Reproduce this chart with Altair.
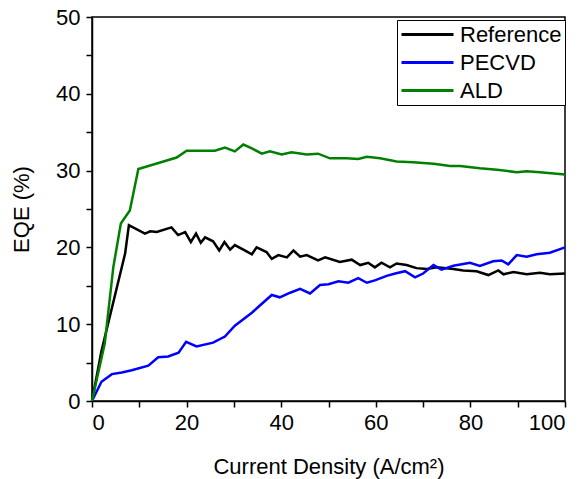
import altair as alt
import pandas as pd

series_names = ["Reference", "PECVD", "ALD"]
series_colors = ["#000000", "#0000ff", "#008000"]

ref_x = [0, 2.0, 7.0, 7.8, 11.2, 12.3, 13.7, 16.8, 18.2, 19.7, 20.9, 22.0, 23.0, 23.9, 25.6, 26.9, 28.0,
         29.2, 30.2, 32.0, 33.8, 34.8, 36.9, 38.0, 39.4, 41.2, 42.6, 44.0, 45.4, 47.8, 49.3, 52.4, 54.9,
         56.7, 58.4, 59.8, 61.2, 63.0, 64.4, 66.5, 68.6, 70.8, 72.9, 76.4, 78.5, 81.3, 83.8, 85.9, 87.0,
         89.1, 91.9, 94.7, 96.8, 100]
ref_y = [0, 6.5, 19.2, 22.9, 21.8, 22.1, 22.0, 22.6, 21.6, 22.0, 20.7, 21.8, 20.6, 21.3, 20.8, 19.6, 20.7,
         19.7, 20.3, 19.7, 19.1, 20.0, 19.4, 18.5, 19.0, 18.7, 19.6, 18.8, 19.0, 18.3, 18.7, 18.1, 18.4,
         17.7, 18.0, 17.4, 18.0, 17.4, 17.9, 17.7, 17.3, 17.2, 17.4, 17.2, 17.0, 16.9, 16.4, 17.0, 16.5,
         16.8, 16.5, 16.7, 16.5, 16.6]

pecvd_x = [0, 2.0, 4.2, 6.3, 8.4, 11.9, 14.0, 16.1, 18.3, 19.9, 22.1, 25.6, 28.1, 30.2, 33.8, 38.0, 39.7,
           41.9, 44.0, 46.1, 48.2, 50.0, 52.1, 54.2, 56.3, 58.1, 59.8, 62.3, 64.1, 66.2, 68.3, 70.0, 72.2,
           73.9, 76.4, 79.9, 82.0, 84.8, 86.6, 88.0, 89.8, 91.9, 94.0, 96.8, 100]
pecvd_y = [0, 2.5, 3.5, 3.7, 4.0, 4.6, 5.7, 5.8, 6.3, 7.7, 7.1, 7.6, 8.4, 9.8, 11.5, 13.8, 13.5,
           14.1, 14.6, 14.0, 15.1, 15.2, 15.6, 15.4, 16.0, 15.4, 15.7, 16.3, 16.6, 16.9, 16.1, 16.6, 17.7,
           17.1, 17.6, 18.0, 17.6, 18.2, 18.3, 17.8, 19.0, 18.8, 19.1, 19.3, 20.0]

ald_x = [0, 2.7, 4.5, 6.1, 8.0, 9.8, 17.9, 20.0, 26.0, 28.1, 30.2, 32.0, 33.8, 35.9, 37.6, 40.1, 42.2,
         45.4, 47.8, 50.3, 53.8, 56.3, 58.1, 60.9, 64.4, 67.9, 72.2, 75.7, 77.8, 82.0, 85.6, 89.8, 91.9,
         94.7, 100]
ald_y = [0, 7.5, 17.4, 23.1, 24.8, 30.2, 31.7, 32.6, 32.6, 33.0, 32.5, 33.4, 32.9, 32.2, 32.5, 32.1, 32.4,
         32.1, 32.2, 31.6, 31.6, 31.5, 31.8, 31.6, 31.2, 31.1, 30.9, 30.6, 30.6, 30.3, 30.1, 29.8, 29.9,
         29.8, 29.5]

rows = []
for name, xs, ys in [("Reference", ref_x, ref_y), ("PECVD", pecvd_x, pecvd_y), ("ALD", ald_x, ald_y)]:
    for i, (x, y) in enumerate(zip(xs, ys)):
        rows.append({"series": name, "x": x, "y": y, "idx": i})
df = pd.DataFrame(rows)

FONT = "Liberation Sans"

chart = alt.Chart(df).mark_line(strokeWidth=2.5).encode(
    x=alt.X("x:Q",
            scale=alt.Scale(domain=[0, 100], nice=False),
            axis=alt.Axis(values=list(range(0, 101, 10)),
                          labelExpr="datum.value % 20 == 0 ? datum.label : ''",
                          title="Current Density (A/cm²)",
                          titlePadding=23, labelPadding=5, grid=False)),
    y=alt.Y("y:Q",
            scale=alt.Scale(domain=[0, 50], nice=False),
            axis=alt.Axis(values=list(range(0, 51, 5)),
                          labelExpr="datum.value % 10 == 0 ? datum.label : ''",
                          title="EQE (%)",
                          titlePadding=22, labelPadding=6, grid=False)),
    color=alt.Color("series:N",
                    scale=alt.Scale(domain=series_names, range=series_colors),
                    legend=alt.Legend(title=None, orient="none", legendX=305, legendY=3,
                                      strokeColor="black", fillColor="white", padding=3,
                                      symbolType="M-1,0H4.2", symbolSize=400, symbolStrokeWidth=3,
                                      labelFontSize=22, labelFont=FONT, labelColor="black",
                                      labelOffset=37, rowPadding=5, cornerRadius=0)),
    order="idx:Q",
).properties(
    width=473, height=384,
    background="white",
    autosize=alt.AutoSizeParams(type="none"),
    padding={"left": 84, "top": 9, "right": 10, "bottom": 78},
).configure_view(
    stroke="black", strokeWidth=1.5
).configure_axis(
    domainColor="black", domainWidth=1.5, tickColor="black", tickWidth=1.5, tickSize=6,
    labelFontSize=22, titleFontSize=22, labelFont=FONT, titleFont=FONT,
    labelColor="black", titleColor="black", titleFontWeight="normal"
)

chart.save("out.html", embed_options={"renderer": "svg", "actions": False})
